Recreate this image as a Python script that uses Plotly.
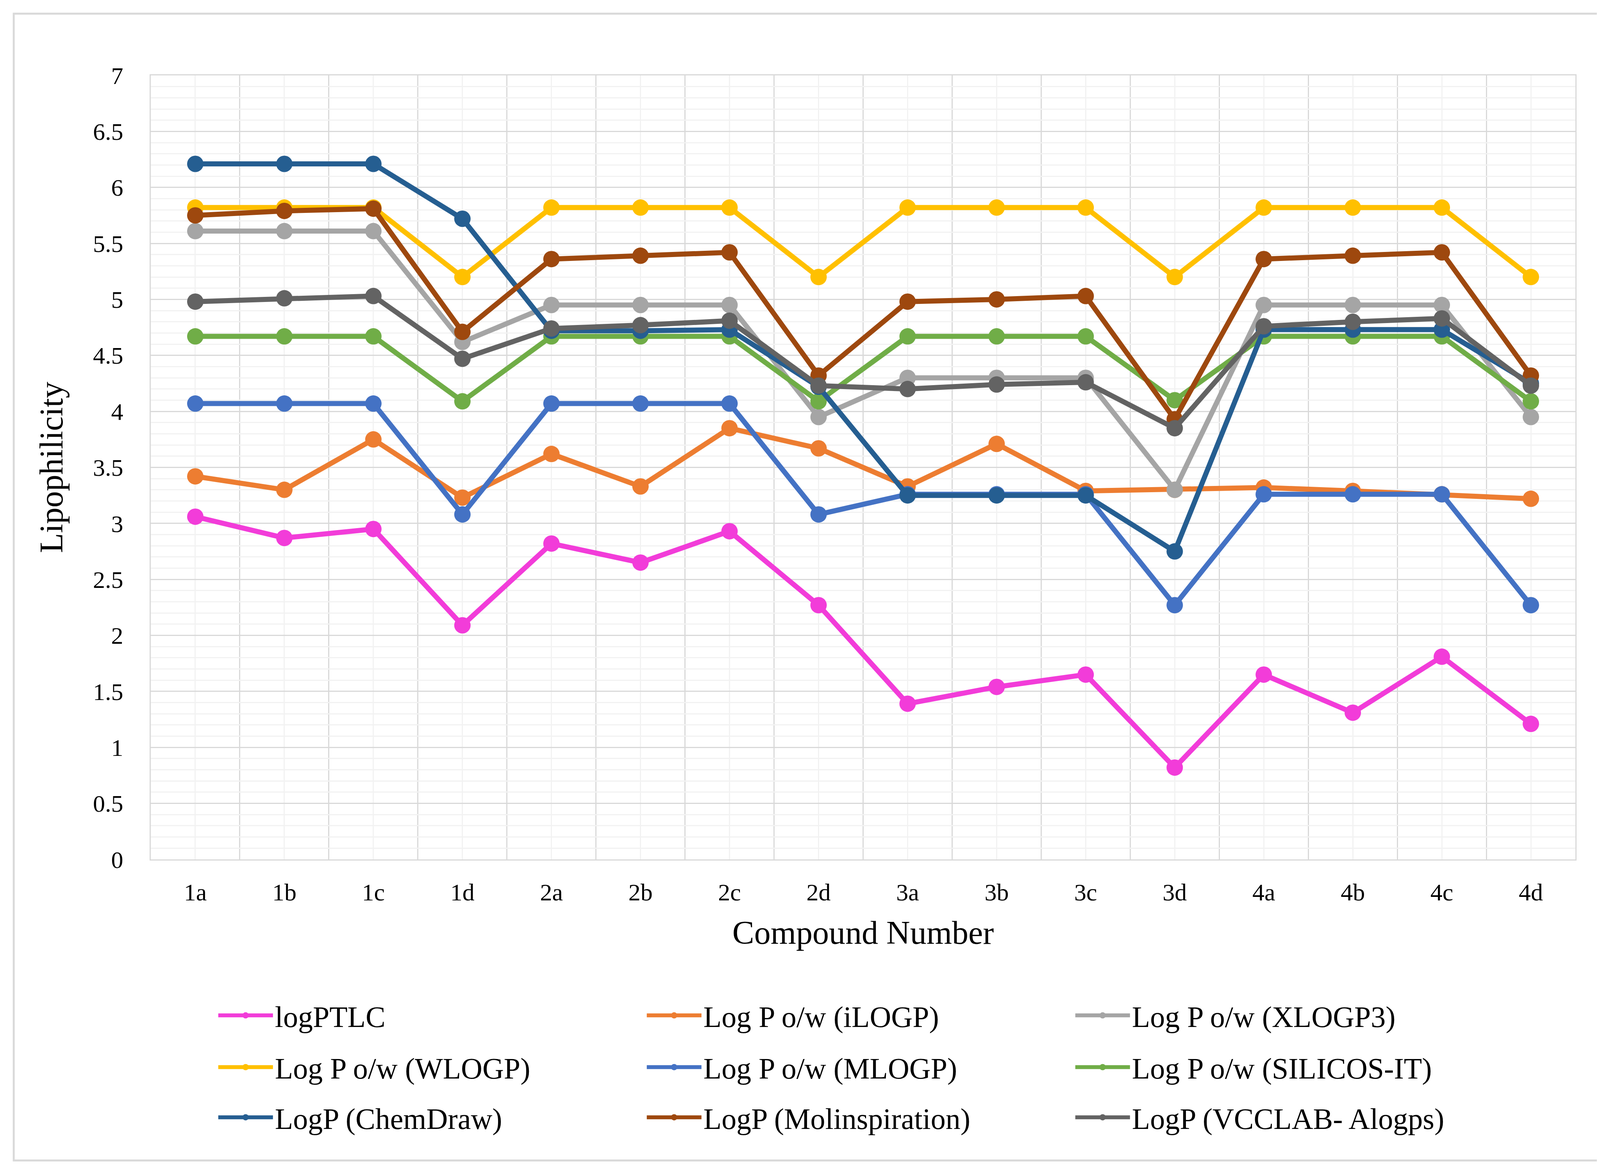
import plotly.graph_objects as go

# 화합물 번호 (x축 카테고리)
compounds = ["1a", "1b", "1c", "1d", "2a", "2b", "2c", "2d",
             "3a", "3b", "3c", "3d", "4a", "4b", "4c", "4d"]

# 각 방법별 lipophilicity 값
logp_tlc = [3.06, 2.87, 2.95, 2.09, 2.82, 2.65, 2.93, 2.27, 1.39, 1.54, 1.65, 0.82, 1.65, 1.31, 1.81, 1.21]
ilogp = [3.42, 3.30, 3.75, 3.23, 3.62, 3.33, 3.85, 3.67, 3.33, 3.71, 3.29, 3.30, 3.32, 3.29, 3.26, 3.22]
xlogp3 = [5.61, 5.61, 5.61, 4.62, 4.95, 4.95, 4.95, 3.95, 4.30, 4.30, 4.30, 3.30, 4.95, 4.95, 4.95, 3.95]
wlogp = [5.82, 5.82, 5.82, 5.20, 5.82, 5.82, 5.82, 5.20, 5.82, 5.82, 5.82, 5.20, 5.82, 5.82, 5.82, 5.20]
mlogp = [4.07, 4.07, 4.07, 3.08, 4.07, 4.07, 4.07, 3.08, 3.26, 3.26, 3.26, 2.27, 3.26, 3.26, 3.26, 2.27]
silicos_it = [4.67, 4.67, 4.67, 4.09, 4.67, 4.67, 4.67, 4.09, 4.67, 4.67, 4.67, 4.10, 4.67, 4.67, 4.67, 4.09]
chemdraw = [6.21, 6.21, 6.21, 5.72, 4.72, 4.72, 4.73, 4.22, 3.25, 3.25, 3.25, 2.75, 4.73, 4.73, 4.73, 4.25]
molinspiration = [5.75, 5.79, 5.81, 4.71, 5.36, 5.39, 5.42, 4.32, 4.98, 5.00, 5.03, 3.93, 5.36, 5.39, 5.42, 4.32]
vcclab = [4.98, 5.01, 5.03, 4.47, 4.74, 4.77, 4.81, 4.23, 4.20, 4.24, 4.26, 3.85, 4.76, 4.80, 4.83, 4.23]

series_names = ["logPTLC", "Log P o/w (iLOGP)", "Log P o/w (XLOGP3)",
                "Log P o/w (WLOGP)", "Log P o/w (MLOGP)", "Log P o/w (SILICOS-IT)",
                "LogP (ChemDraw)", "LogP (Molinspiration)", "LogP (VCCLAB- Alogps)"]
series_values = [logp_tlc, ilogp, xlogp3, wlogp, mlogp, silicos_it,
                 chemdraw, molinspiration, vcclab]
colors = ["#F23CD9", "#ED7D31", "#A5A5A5", "#FFC000", "#4472C4", "#70AD47",
          "#255E91", "#9E480E", "#636363"]

FONT = "Liberation Serif, Times New Roman, serif"
x_pos = list(range(len(compounds)))

fig = go.Figure()

# 한 줄에 3개씩 범례를 나눈다
legend_ids = ["legend", "legend2", "legend3"]
for i, (name, vals, col) in enumerate(zip(series_names, series_values, colors)):
    fig.add_trace(go.Scatter(
        x=x_pos, y=vals, mode="lines+markers", name=name,
        line=dict(color=col, width=13),
        marker=dict(color=col, size=42),
        legend=legend_ids[i // 3],
    ))

legend_base = dict(
    orientation="h", xanchor="left", yanchor="middle", x=0.046,
    font=dict(family=FONT, size=76, color="black"),
    itemwidth=140, entrywidth=942, entrywidthmode="pixels",
    bgcolor="rgba(0,0,0,0)",
)

fig.update_layout(
    width=4259, height=2990,
    autosize=False,
    paper_bgcolor="white", plot_bgcolor="white",
    margin=dict(l=378, r=234, t=185, b=798, autoexpand=False),
    font=dict(family=FONT, color="black"),
    xaxis=dict(
        range=[-0.5, len(compounds) - 0.5],
        tickvals=x_pos, ticktext=compounds,
        ticks="", tickfont=dict(size=62, family=FONT, color="black"),
        ticklabelstandoff=28,
        showgrid=True, gridcolor="#F2F2F2", gridwidth=3,
        minor=dict(tickvals=[v - 0.5 for v in range(len(compounds) + 1)],
                   showgrid=True, gridcolor="#D9D9D9", gridwidth=3, ticks=""),
        showline=True, linecolor="#D9D9D9", linewidth=3, mirror=True,
        zeroline=False,
        title=dict(text="Compound Number", font=dict(size=84, family=FONT, color="black"),
                   standoff=40),
    ),
    yaxis=dict(
        range=[0, 7], dtick=0.5, tick0=0,
        ticks="", tickfont=dict(size=62, family=FONT, color="black"),
        ticklabelstandoff=55,
        showgrid=True, gridcolor="#D9D9D9", gridwidth=3,
        minor=dict(dtick=0.1, showgrid=True, gridcolor="#F2F2F2", gridwidth=3, ticks=""),
        showline=True, linecolor="#D9D9D9", linewidth=3, mirror=True,
        zeroline=False,
        title=dict(text="Lipophilicity", font=dict(size=84, family=FONT, color="black"),
                   standoff=50),
    ),
    legend=dict(legend_base, y=-0.199),
    legend2=dict(legend_base, y=-0.265),
    legend3=dict(legend_base, y=-0.329),
    shapes=[dict(type="rect", xref="paper", yref="paper",
                 x0=-0.0962, x1=1.0568, y0=-0.384, y1=1.0787,
                 line=dict(color="#D9D9D9", width=5), layer="below")],
)

fig.write_html("out.html")
